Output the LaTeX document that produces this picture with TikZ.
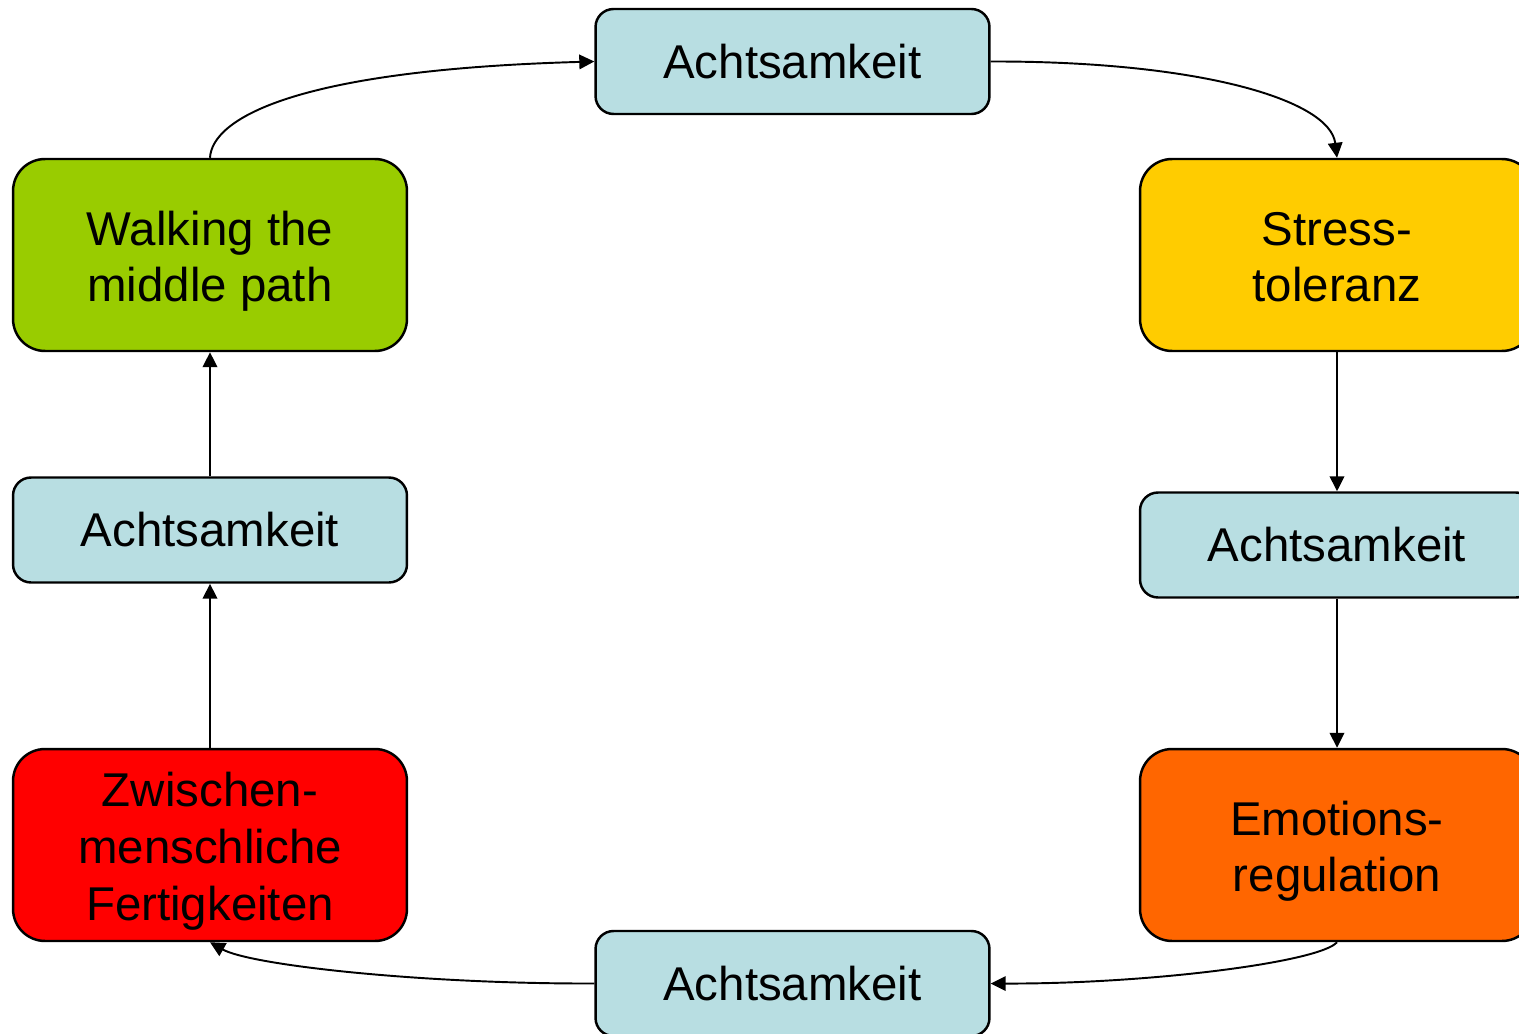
\documentclass[tikz,border=0pt]{standalone}
\usepackage{fontspec}
\setmainfont{Liberation Sans}
\usetikzlibrary{arrows.meta}
\definecolor{lblue}{RGB}{184,222,226}
\definecolor{lgreen}{RGB}{153,204,0}
\definecolor{lyellow}{RGB}{255,204,0}
\definecolor{lorange}{RGB}{255,102,0}
\definecolor{lred}{RGB}{255,0,0}
\newcommand{\topstrut}{\rule{0pt}{0.94cm}}
\newcommand{\botstrut}{\rule[-0.2cm]{0pt}{0.2cm}}
\begin{document}
\begin{tikzpicture}[x=0.02cm,y=-0.02cm,
  box/.style={draw=black,line width=1.4pt,align=center,inner sep=0pt,
    minimum width=7.88cm,font=\fontsize{27}{32.4}\selectfont},
  smallbox/.style={box,fill=lblue,minimum height=2.1cm,rounded corners=0.36cm},
  bigbox/.style={box,minimum height=3.84cm,rounded corners=0.64cm},
  conn/.style={line width=1.1pt,-{Triangle[length=0.3cm,width=0.29cm]}}]
\clip (0,0) rectangle (1519,1034);
\fill[white] (0,0) rectangle (1519,1034);
\node[smallbox] (a1) at (792.5,61.5) {Achtsamkeit};
\node[bigbox,fill=lgreen] (walk) at (210,255) {\topstrut Walking the\\middle path\botstrut};
\node[bigbox,fill=lyellow] (stress) at (1337,255) {\topstrut Stress-\\toleranz\botstrut};
\node[smallbox] (a2) at (1337,545) {Achtsamkeit};
\node[bigbox,fill=lorange] (emo) at (1337,845) {\topstrut Emotions-\\regulation\botstrut};
\node[smallbox] (a3) at (792.5,983.5) {Achtsamkeit};
\node[bigbox,fill=lred] (zw) at (210,845) {\topstrut Zwischen-\\menschliche\\Fertigkeiten\botstrut};
\node[smallbox] (a4) at (210,530) {Achtsamkeit};
\draw[conn] (walk.north) .. controls (212,120) and (290,70) .. (a1.west);
\draw[conn] (a1.east) .. controls (1200,61) and (1330,100) .. (stress.north);
\draw[conn] (stress.south) -- (a2.north);
\draw[conn] (a2.south) -- (emo.north);
\draw[conn] (emo.south) .. controls (1320,962) and (1150,984) .. (a3.east);
\draw[conn] (a3.west) .. controls (420,984) and (250,965) .. (zw.south);
\draw[conn] (zw.north) -- (a4.south);
\draw[conn] (a4.north) -- (walk.south);
\end{tikzpicture}
\end{document}
